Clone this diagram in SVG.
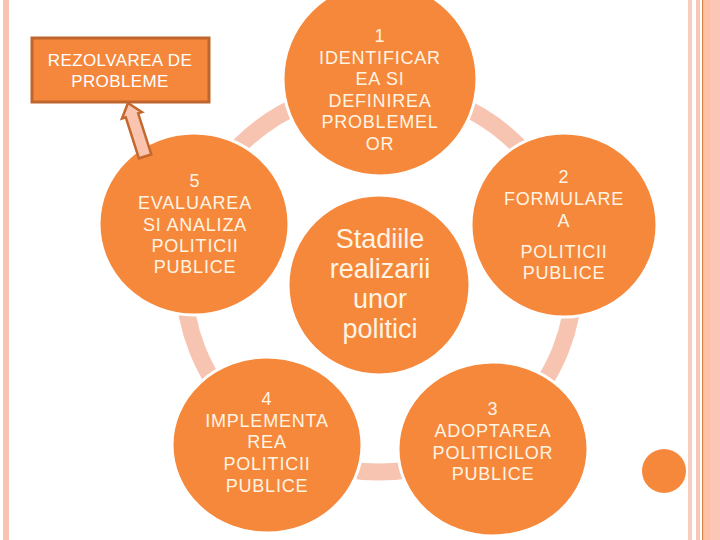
<svg xmlns="http://www.w3.org/2000/svg" width="720" height="540" viewBox="0 0 720 540">
  <style>
    .node { fill: #F6883B; stroke: #FFFFFF; stroke-width: 3; }
    .t { font-family: "Liberation Sans", Arial, sans-serif; font-size: 18px; fill: #FFF4E4; text-anchor: middle; letter-spacing: 0.8px; }
    .tc { font-family: "Liberation Sans", Arial, sans-serif; font-size: 27px; fill: #FFF4E4; text-anchor: middle; }
    .tb { font-family: "Liberation Sans", Arial, sans-serif; font-size: 17px; fill: #FFFFFF; text-anchor: middle; letter-spacing: 0.4px; }
  </style>
  <rect x="0" y="0" width="720" height="540" fill="#FFFFFF"/>

  <g id="decor">
    <rect x="3" y="0" width="6" height="540" fill="#F8C3B0"/>
    <rect x="688" y="0" width="4" height="540" fill="#F9CDBE"/>
    <rect x="696" y="0" width="4" height="540" fill="#F9C7B5"/>
    <rect x="703" y="0" width="7" height="540" fill="#FDC2A6"/>
    <rect x="710" y="0" width="10" height="540" fill="#FCC6B6"/>
    <rect x="702" y="0" width="1.2" height="540" fill="#D9834F"/>
    <circle cx="664" cy="471" r="22" fill="#F6883B"/>
  </g>

  <g id="connectors">
    <ellipse cx="379" cy="280" rx="195" ry="192" fill="none" stroke="#F8C4B2" stroke-width="17"/>
  </g>

  <g id="node1">
    <ellipse class="node" cx="380" cy="79" rx="97" ry="97"/>
    <text class="t" x="380" y="42">1</text>
    <text class="t" x="380" y="64">IDENTIFICAR</text>
    <text class="t" x="380" y="85">EA SI</text>
    <text class="t" x="380" y="107">DEFINIREA</text>
    <text class="t" x="380" y="128">PROBLEMEL</text>
    <text class="t" x="380" y="150">OR</text>
  </g>

  <g id="node2">
    <ellipse class="node" cx="564" cy="225" rx="93" ry="92"/>
    <text class="t" x="564" y="183">2</text>
    <text class="t" x="564" y="205">FORMULARE</text>
    <text class="t" x="564" y="227">A</text>
    <text class="t" x="564" y="258">POLITICII</text>
    <text class="t" x="564" y="279">PUBLICE</text>
  </g>

  <g id="node3">
    <ellipse class="node" cx="493" cy="449" rx="95" ry="87"/>
    <text class="t" x="493" y="415">3</text>
    <text class="t" x="493" y="437">ADOPTAREA</text>
    <text class="t" x="493" y="459">POLITICILOR</text>
    <text class="t" x="493" y="480">PUBLICE</text>
  </g>

  <g id="node4">
    <ellipse class="node" cx="267" cy="445" rx="95" ry="88"/>
    <text class="t" x="267" y="405">4</text>
    <text class="t" x="267" y="427">IMPLEMENTA</text>
    <text class="t" x="267" y="448">REA</text>
    <text class="t" x="267" y="470">POLITICII</text>
    <text class="t" x="267" y="492">PUBLICE</text>
  </g>

  <g id="node5">
    <ellipse class="node" cx="194" cy="224" rx="95" ry="91"/>
    <text class="t" x="195" y="187">5</text>
    <text class="t" x="195" y="209">EVALUAREA</text>
    <text class="t" x="195" y="231">SI ANALIZA</text>
    <text class="t" x="195" y="252">POLITICII</text>
    <text class="t" x="195" y="273">PUBLICE</text>
  </g>

  <g id="center">
    <ellipse class="node" cx="379" cy="285" rx="91" ry="90"/>
    <text class="tc" x="380" y="248">Stadiile</text>
    <text class="tc" x="380" y="278">realizarii</text>
    <text class="tc" x="380" y="308">unor</text>
    <text class="tc" x="380" y="338">politici</text>
  </g>

  <g id="box">
    <rect x="32" y="38" width="177" height="64" fill="#F5873C" stroke="#BF652E" stroke-width="3"/>
    <text class="tb" x="120" y="66">REZOLVAREA DE</text>
    <text class="tb" x="120" y="87">PROBLEME</text>
  </g>

  <g id="arrow">
    <polygon points="0,0 10.5,13 6.5,13 6.5,56 -6.5,56 -6.5,13 -10.5,13" transform="translate(128,103) rotate(-17.8)" fill="#FAC4AE" stroke="#C5682F" stroke-width="2.5" stroke-linejoin="miter"/>
  </g>
</svg>
